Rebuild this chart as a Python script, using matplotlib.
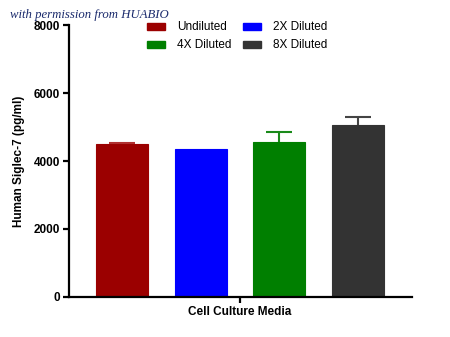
import matplotlib.pyplot as plt
from matplotlib.patches import Patch

# Siglec-7 ELISA readings by dilution
groups = ['Undiluted', '2X Diluted', '4X Diluted', '8X Diluted']
means = [4510, 4345, 4550, 5060]
sem = [30, 0, 300, 245]
bar_colors = ['#9b0000', '#0000ff', '#007f00', '#333333']
err_colors = ['#b03030', '#0000ff', '#1a8a1a', '#444444']
yticks = [0, 2000, 4000, 6000, 8000]
category = 'Cell Culture Media'

plt.rcParams['font.family'] = ['Liberation Sans', 'DejaVu Sans']

fig = plt.figure(figsize=(4.5, 3.37), dpi=100)
ax = fig.add_axes([0.1533, 0.1187, 0.7623, 0.8071])

xs = list(range(len(groups)))
for x, m, e, c, ec in zip(xs, means, sem, bar_colors, err_colors):
    ax.bar(x, m, width=0.66, color=c, edgecolor=c, linewidth=0.8, zorder=2)
    if e > 0:
        eb = ax.errorbar(x, m, yerr=[[0], [e]], fmt='none', ecolor=ec,
                         elinewidth=1.5, capsize=9.4, capthick=1.5, zorder=3)
        # only the upper cap is shown
        eb[1][0].set_visible(False)

ax.set_xlim(-0.68, 3.69)
ax.set_ylim(0, 8000)
ax.set_yticks(yticks)
ax.set_yticklabels([str(t) for t in yticks], fontsize=8.5, fontweight='bold')
ax.set_xticks([1.5])
ax.set_xticklabels([category], fontsize=8.5, fontweight='bold')
ax.set_ylabel('Human Siglec-7 (pg/ml)', fontsize=8.5, fontweight='bold', labelpad=6)

for side in ['top', 'right']:
    ax.spines[side].set_visible(False)
for side in ['left', 'bottom']:
    ax.spines[side].set_linewidth(1.6)
ax.tick_params(axis='both', width=1.6, length=4.5, direction='out', pad=2)

# legend fills column by column, so order for row-wise reading
order = [0, 2, 1, 3]
handles = [Patch(facecolor=bar_colors[i], edgecolor=bar_colors[i]) for i in order]
labels = [groups[i] for i in order]
ax.legend(handles, labels, ncol=2, loc='upper center', bbox_to_anchor=(0.49, 1.052),
          frameon=False, fontsize=8.5, handlelength=1.5, handleheight=0.5,
          columnspacing=1.0, labelspacing=0.5, handletextpad=1.0)

fig.text(0.022, 0.956, 'with permission from HUABIO', fontsize=9.2, style='italic',
         family='Liberation Serif', color='#1a2a6c', va='center')

fig.savefig('out.png', dpi=100)
